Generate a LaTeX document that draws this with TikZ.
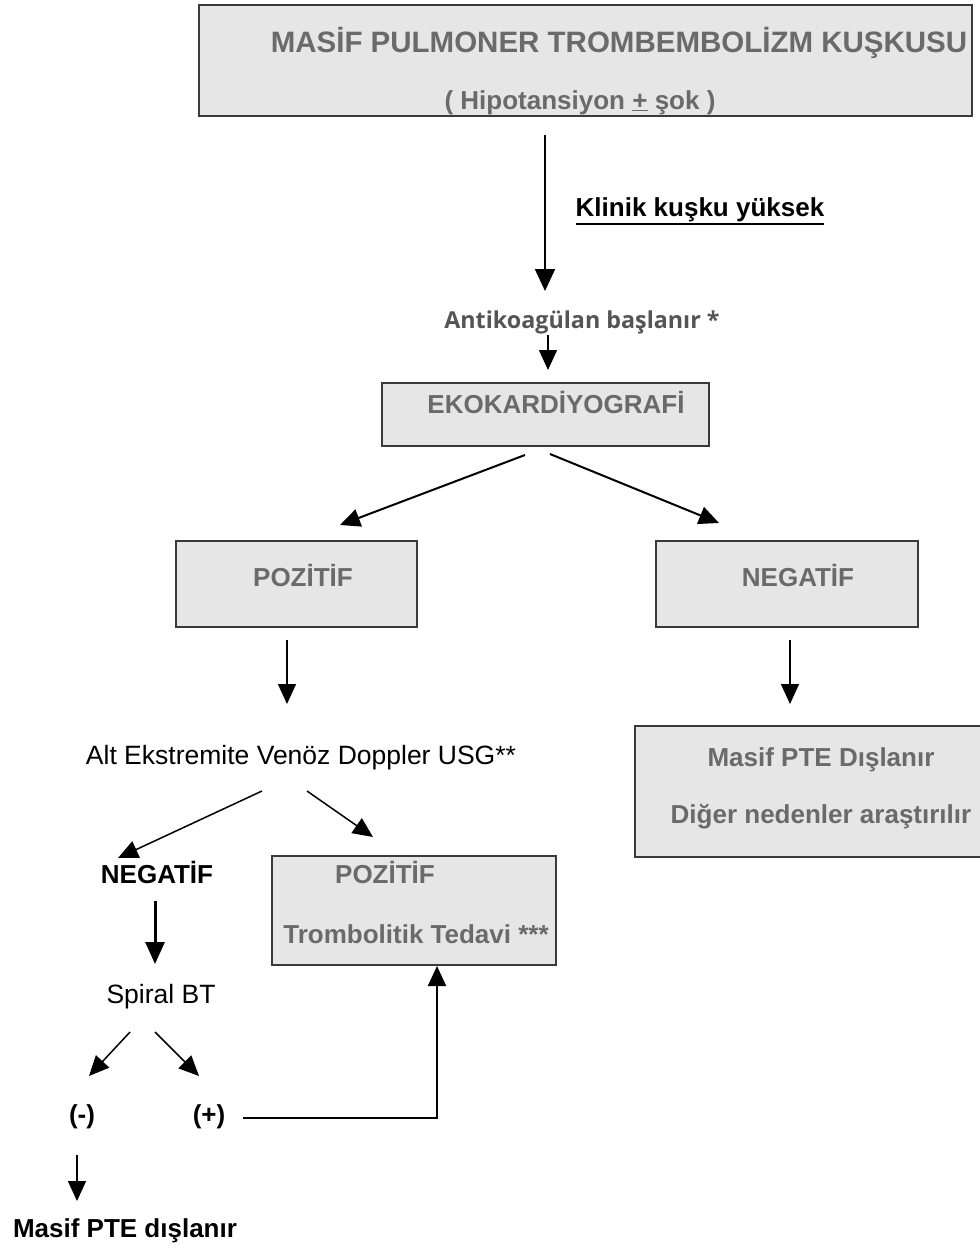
\documentclass[tikz,border=0pt]{standalone}
\usepackage{fontspec}
\setmainfont{Liberation Sans}
\newfontfamily\opensans{Open Sans}
\usetikzlibrary{arrows.meta}
\definecolor{boxfill}{HTML}{E6E6E6}
\definecolor{boxline}{HTML}{3A3A3A}
\definecolor{txtgray}{HTML}{6A6A6A}
\definecolor{antgray}{HTML}{555555}
\begin{document}
\begin{tikzpicture}[x=1pt,y=-1pt,
  box/.style={draw=boxline,fill=boxfill,line width=2pt,inner sep=0pt},
  gt/.style={text=txtgray,font=\bfseries\fontsize{26}{30}\selectfont,inner sep=0pt,anchor=base},
  bt/.style={text=black,font=\bfseries\fontsize{26}{30}\selectfont,inner sep=0pt,anchor=base},
  rt/.style={text=black,font=\fontsize{26.5}{30}\selectfont,inner sep=0pt,anchor=base},
  arr/.style={line width=1.5pt,-{Triangle[length=20pt,width=18pt]}},
  thickarr/.style={line width=3pt,-{Triangle[length=22pt,width=19pt]}},
]
\useasboundingbox (0,0) rectangle (980,1248);

% boxes
\node[box,minimum width=773,minimum height=111] (topbox) at (585.5,60.5) {};
\node[box,minimum width=327,minimum height=63] (ekobox) at (545.5,414.5) {};
\node[box,minimum width=241,minimum height=86] (pozbox) at (296.5,584) {};
\node[box,minimum width=262,minimum height=86] (negbox) at (787,584) {};
\node[box,minimum width=355,minimum height=131] (ptebox) at (812.5,791.5) {};
\node[box,minimum width=284,minimum height=109] (trbox) at (414,910.5) {};

% texts
\node[gt,font=\bfseries\fontsize{29.5}{32}\selectfont] (t1) at (619,52.5) {MASİF PULMONER TROMBEMBOLİZM KUŞKUSU};
\node[gt] (t2) at (580,109) {( Hipotansiyon \underline{+} şok )};
\node[bt] (klinik) at (700,216) {Klinik kuşku yüksek};
\draw[line width=2pt] ([yshift=-8pt]klinik.base west) -- ([yshift=-8pt]klinik.base east);
\node[text=antgray,font=\opensans\bfseries\fontsize{23.3}{27}\selectfont,inner sep=0pt,anchor=base] (ant) at (582,328) {Antikoagülan başlanır *};
\node[gt] (eko) at (556,413) {EKOKARDİYOGRAFİ};
\node[gt] (poz) at (303,586) {POZİTİF};
\node[gt] (neg) at (798,586) {NEGATİF};
\node[rt] (alt) at (301,764) {Alt Ekstremite Venöz Doppler USG**};
\node[gt] (pte1) at (821,766) {Masif PTE Dışlanır};
\node[gt] (pte2) at (821,823) {Diğer nedenler araştırılır};
\node[bt] (neg2) at (157,883) {NEGATİF};
\node[gt] (poz2) at (385,883) {POZİTİF};
\node[gt] (trom) at (416,943) {Trombolitik Tedavi ***};
\node[rt] (spiral) at (161,1003) {Spiral BT};
\node[bt] (minus) at (82,1123) {(-)};
\node[bt] (plus) at (209,1123) {(+)};
\node[bt] (ptedis) at (125,1237) {Masif PTE dışlanır};

% connector end points
\coordinate (a1s) at (545,135);  \coordinate (a1e) at (545,291);
\coordinate (a2s) at (548,335);  \coordinate (a2e) at (548,370);
\coordinate (a3s) at (525,455);  \coordinate (a3e) at (340,525);
\coordinate (a4s) at (550,454);  \coordinate (a4e) at (719,523);
\coordinate (a5s) at (287,640);  \coordinate (a5e) at (287,704);
\coordinate (a6s) at (790,640);  \coordinate (a6e) at (790,704);
\coordinate (a7s) at (262,791);  \coordinate (a7e) at (118,858);
\coordinate (a8s) at (307,791);  \coordinate (a8e) at (373,837);
\coordinate (a9s) at (155,901);  \coordinate (a9e) at (155,964);
\coordinate (a10s) at (130,1032); \coordinate (a10e) at (89,1076);
\coordinate (a11s) at (155,1032); \coordinate (a11e) at (199,1076);
\coordinate (a12s) at (243,1118); \coordinate (a12c) at (437,1118); \coordinate (a12e) at (437,966);
\coordinate (a13s) at (77,1155); \coordinate (a13e) at (77,1201);

\draw[arr,line width=2pt,-{Triangle[length=22pt,width=20pt]}] (a1s) -- (a1e);
\draw[arr] (a2s) -- (a2e);
\draw[arr,line width=2pt] (a3s) -- (a3e);
\draw[arr,line width=2pt] (a4s) -- (a4e);
\draw[arr] (a5s) -- (a5e);
\draw[arr] (a6s) -- (a6e);
\draw[arr] (a7s) -- (a7e);
\draw[arr] (a8s) -- (a8e);
\draw[thickarr] (a9s) -- (a9e);
\draw[arr] (a10s) -- (a10e);
\draw[arr] (a11s) -- (a11e);
\draw[arr,line width=2pt] (a12s) -- (a12c) -- (a12e);
\draw[arr] (a13s) -- (a13e);
\end{tikzpicture}
\end{document}
